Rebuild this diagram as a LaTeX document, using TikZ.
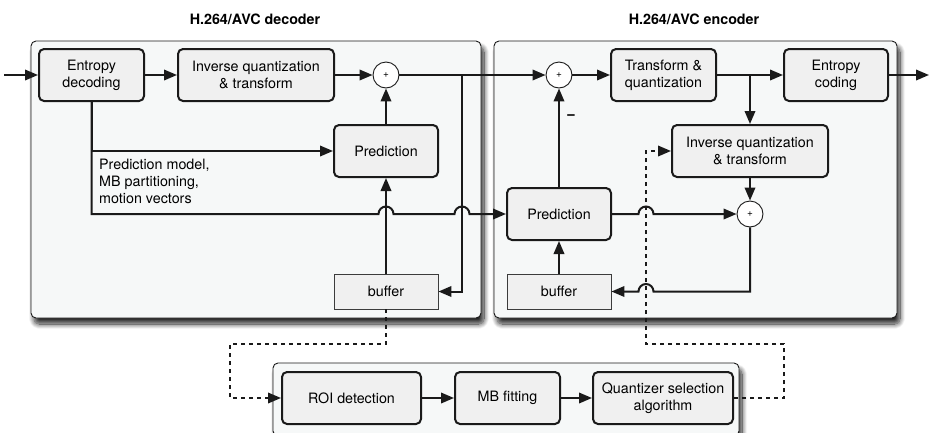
\documentclass[tikz,border=0pt]{standalone}
\usepackage{fontspec}
\setmainfont{TeX Gyre Heros}
\usetikzlibrary{arrows.meta,shadows.blur,calc}
\definecolor{panelfill}{HTML}{F6F8F8}
\definecolor{boxfill}{HTML}{F0F0F0}
\definecolor{ink}{HTML}{1A1A1A}
\begin{document}
\begin{tikzpicture}[x=1pt,y=1pt,
  font=\fontsize{14.3}{17}\selectfont,
  panel/.style={draw=ink, line width=0.9pt, rounded corners=5pt, fill=panelfill,
    blur shadow={shadow xshift=3pt,shadow yshift=-6pt,shadow blur radius=5pt,shadow blur steps=12,shadow opacity=85}},
  blk/.style={draw=ink, line width=2pt, rounded corners=5pt, fill=boxfill, align=center, inner sep=0pt},
  buf/.style={draw=ink!85, line width=0.9pt, fill=boxfill, inner sep=0pt},
  sumnode/.style={circle, draw=ink, line width=0.9pt, fill=white, minimum size=26pt, inner sep=0pt, font=\fontsize{10}{12}\selectfont},
  conn/.style={draw=ink, line width=2pt, -{Triangle[length=13pt,width=10.5pt]}},
  dotconn/.style={draw=ink, line width=2pt, dash pattern=on 4pt off 4pt, -{Triangle[length=13pt,width=10.5pt]}},
  ttl/.style={font=\bfseries\fontsize{14.3}{17}\selectfont},
]
\useasboundingbox (0,0) rectangle (930,-432);

% panels
\path[panel] (31,-41) rectangle (481,-318);
\path[panel] (494,-41) rectangle (897,-318);
\path[panel] (273,-363) rectangle (739,-436);

% titles
\node[ttl] (tdec) at (255,-19) {H.264/AVC decoder};
\node[ttl] (tenc) at (694,-19) {H.264/AVC encoder};

% decoder
\node[blk, minimum width=105pt, minimum height=52pt] (ed) at (91.5,-75) {Entropy\\decoding};
\node[blk, minimum width=156pt, minimum height=52pt] (iqd) at (256,-75) {Inverse quantization\\\& transform};
\node[sumnode] (sd) at (386,-75) {+};
\node[blk, minimum width=104pt, minimum height=52pt] (pd) at (386,-151) {Prediction};
\node[buf, minimum width=104pt, minimum height=35pt] (bd) at (386,-291.5) {buffer};
\node[align=left, anchor=west, inner sep=0pt] (lbl) at (99,-181) {Prediction model,\\MB partitioning,\\motion vectors};

% encoder
\node[sumnode] (se) at (559,-75) {+};
\node[blk, minimum width=105pt, minimum height=52pt] (tq) at (663.5,-75) {Transform \&\\quantization};
\node[blk, minimum width=104pt, minimum height=52pt] (ec) at (836,-75) {Entropy\\coding};
\node[blk, minimum width=156pt, minimum height=52pt] (iqe) at (750,-151) {Inverse quantization\\\& transform};
\node[sumnode] (s2) at (750,-214) {+};
\node[blk, minimum width=104pt, minimum height=52pt] (pe) at (559,-214) {Prediction};
\node[buf, minimum width=104pt, minimum height=35pt] (be) at (559,-291.5) {buffer};
\node[font=\bfseries\fontsize{16}{17}\selectfont, inner sep=0pt] (minus) at (571,-117) {−};

% bottom
\node[blk, minimum width=139pt, minimum height=52pt] (roi) at (351.5,-398) {ROI detection};
\node[blk, minimum width=105pt, minimum height=52pt] (mb) at (507.5,-398) {MB fitting};
\node[blk, minimum width=140pt, minimum height=52pt] (qs) at (663,-398) {Quantizer selection\\algorithm};

% coordinates
\coordinate (in) at (4,-75);
\coordinate (out) at (929,-75);
\coordinate (br1) at (462,-75);
\coordinate (br2) at (750,-75);
\coordinate (dx) at (646,-75);
\coordinate (dleft) at (230,-344);
\coordinate (dright) at (784,-344);

% decoder connectors
\draw[conn] (in) -- (ed.west);
\draw[conn] (ed.east) -- (iqd.west);
\draw[conn] (iqd.east) -- (sd.west);
\draw[conn] (pd.north) -- (sd.south);
\draw[conn] (ed.south) |- (pd.west);
\draw[conn] (ed.south) -- (ed.south |- pe.west)
  -- ($(bd.north |- pe.west)+(-7.5,0)$) arc[start angle=180,end angle=0,radius=7.5pt]
  -- ($(br1 |- pe.west)+(-7.5,0)$) arc[start angle=180,end angle=0,radius=7.5pt]
  -- (pe.west);
\draw[conn] (sd.east) -- (se.west);
\draw[conn] (br1) |- (bd.east);
\draw[conn] (bd.north) -- (pd.south);

% encoder connectors
\draw[conn] (pe.north) -- (se.south);
\draw[conn] (se.east) -- (tq.west);
\draw[conn] (tq.east) -- (ec.west);
\draw[conn] (ec.east) -- (out);
\draw[conn] (br2) -- (iqe.north);
\draw[conn] (iqe.south) -- (s2.north);
\draw[conn] (pe.east) -- ($(dx |- pe.east)+(-7.5,0)$) arc[start angle=180,end angle=0,radius=7.5pt] -- (s2.west);
\draw[conn] (s2.south) -- (s2.south |- be.east)
  -- ($(dx |- be.east)+(7.5,0)$) arc[start angle=0,end angle=180,radius=7.5pt] -- (be.east);
\draw[conn] (be.north) -- (pe.south);

% bottom connectors
\draw[dotconn] (bd.south) |- (dleft) |- (roi.west);
\draw[conn] (roi.east) -- (mb.west);
\draw[conn] (mb.east) -- (qs.west);
\draw[dotconn] (qs.east) -| (dright) -- (dx |- dright) |- (iqe.west);
\end{tikzpicture}
\end{document}
